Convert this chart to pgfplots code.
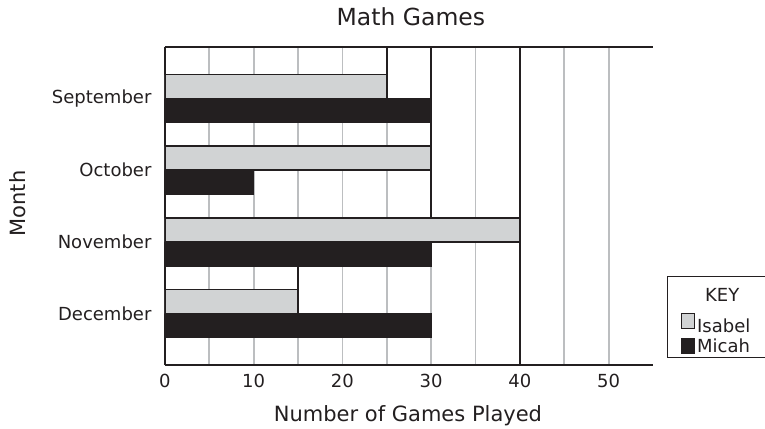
\documentclass[border=0pt]{standalone}
\usepackage{fontspec}
\setmainfont{DejaVu Sans}
\usepackage{pgfplots}
\pgfplotsset{compat=1.18}
\definecolor{barblack}{HTML}{231F20}
\definecolor{bargray}{HTML}{D1D3D4}
\definecolor{gridgray}{HTML}{BCBEC0}
\begin{document}
\begin{tikzpicture}
\begin{axis}[
  scale only axis, width=488pt, height=318pt,
  xmin=0, xmax=55, ymin=-0.72, ymax=3.72,
  axis x line=box, axis y line=left,
  axis line style={-, line width=2.2pt, barblack},
  xtick={0,10,20,30,40,50},
  minor xtick={5,15,25,35,45},
  ytick={0,1,2,3},
  yticklabels={December,November,October,September},
  major tick length=0pt, minor tick length=0pt,
  xmajorgrids, xminorgrids,
  major grid style={gridgray, line width=1.8pt},
  minor grid style={gridgray, line width=1.8pt},
  /pgf/number format/assume math mode=true,
  ticklabel style={font=\fontsize{18}{21}\selectfont, text=barblack},
  xticklabel style={yshift=-6pt},
  yticklabel style={xshift=-10pt},
  title={Math Games},
  title style={at={(axis description cs:0.504,1.075)}, anchor=center, font=\fontsize{23.5}{27}\selectfont, text=barblack},
  xlabel={Number of Games Played},
  xlabel style={at={(axis description cs:0.498,-0.16)}, anchor=center, font=\fontsize{21}{25}\selectfont, text=barblack},
  ylabel={Month},
  ylabel style={at={(axis description cs:-0.301,0.508)}, anchor=center, font=\fontsize{21}{25}\selectfont, text=barblack},
  legend style={at={(rel axis cs:1.0287,0.280)}, anchor=north west, draw=barblack, line width=1.2pt,
    font=\fontsize{18}{21}\selectfont, text=barblack, inner xsep=0pt, inner ysep=2pt,
    row sep=1pt, column sep=0pt},
  legend cell align=left,
]
\addlegendimage{empty legend}
\addplot[xbar, bar width=0.335, bar shift=0.1675, fill=bargray, draw=barblack, line width=1.6pt,
  legend image code/.code={\draw[fill=bargray, draw=barblack, line width=1pt] (14pt,-7.5pt) rectangle (27pt,7.5pt);}]
  coordinates {(25,3) (30,2) (40,1) (15,0)};
\addplot[xbar, bar width=0.335, bar shift=-0.1675, fill=barblack, draw=barblack, line width=1.6pt,
  legend image code/.code={\draw[fill=barblack, draw=barblack, line width=1pt] (14pt,-7.5pt) rectangle (27pt,7.5pt);}]
  coordinates {(30,3) (10,2) (30,1) (30,0)};
\addplot[barblack, line width=2pt, forget plot] coordinates {(25,3.72) (25,3.335)};
\addplot[barblack, line width=2pt, forget plot] coordinates {(30,3.72) (30,1.335)};
\addplot[barblack, line width=2pt, forget plot] coordinates {(40,3.72) (40,-0.72)};
\addplot[barblack, line width=2pt, forget plot] coordinates {(15,0.665) (15,0.335)};
\addlegendentry{\rule{0pt}{21pt}\hspace{8pt}KEY}
\addlegendentry{\rule{0pt}{24pt}Isabel\hspace*{24pt}\null}
\addlegendentry{\rule[-8pt]{0pt}{10pt}Micah}
\coordinate (bl) at (rel axis cs:-0.338,-0.198);
\coordinate (tr) at (rel axis cs:1.2295,1.148);
\end{axis}
\pgfresetboundingbox
\path (bl) rectangle (tr);
\end{tikzpicture}
\end{document}
